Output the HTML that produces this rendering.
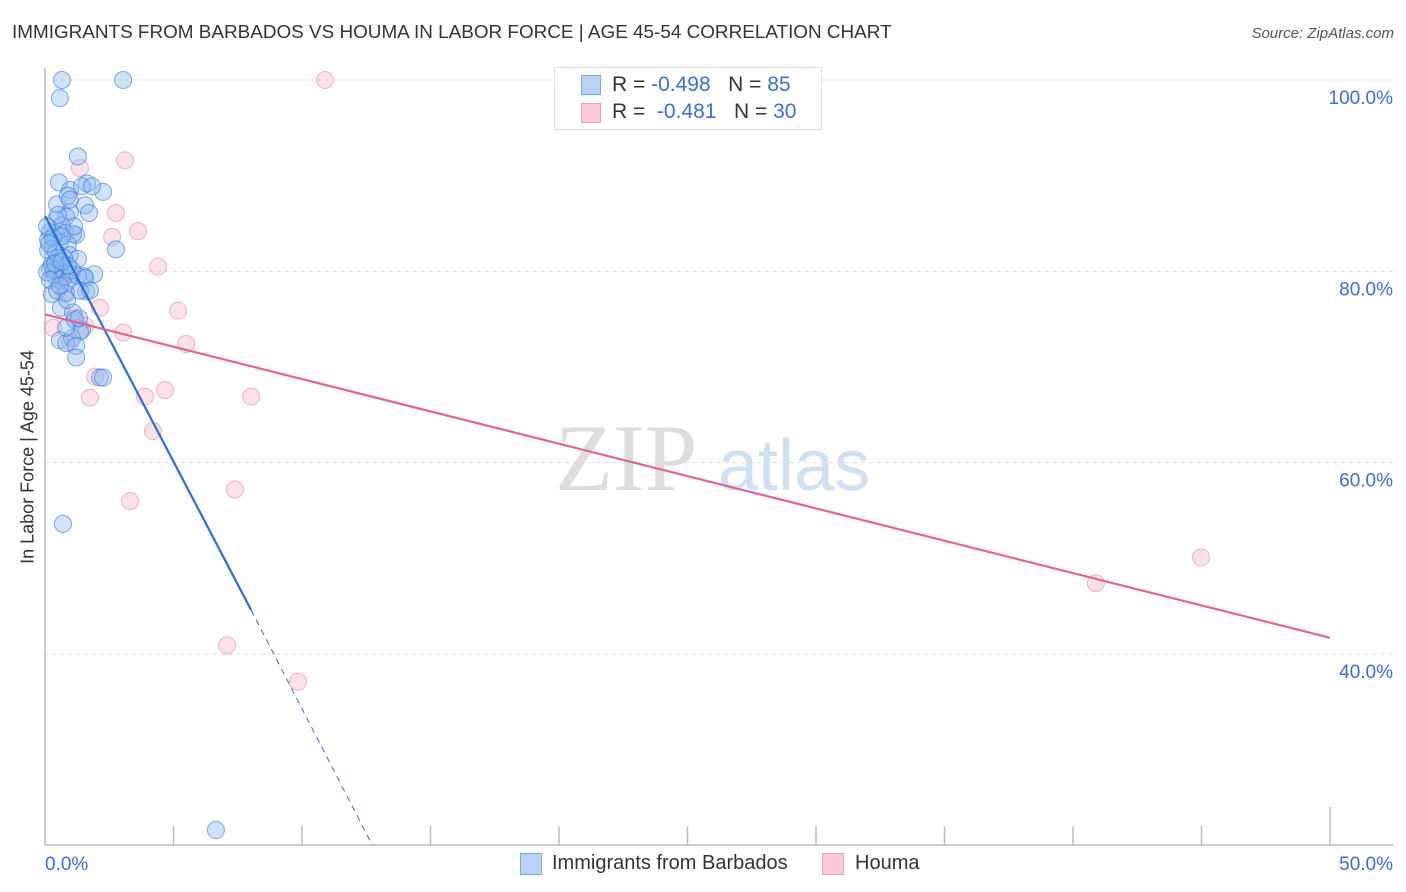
<!DOCTYPE html>
<html><head><meta charset="utf-8"><style>
body{margin:0;background:#fff;font-family:"Liberation Sans",sans-serif}
#wrap{position:relative;width:1406px;height:892px;overflow:hidden}
.t{position:absolute;white-space:nowrap}
</style></head><body>
<div id="wrap">
<div class="t" style="left:12px;top:22px;font-size:18.9px;color:#333">IMMIGRANTS FROM BARBADOS VS HOUMA IN LABOR FORCE | AGE 45-54 CORRELATION CHART</div>
<div class="t" style="right:12px;top:25px;font-size:15px;color:#555;font-style:italic">Source: ZipAtlas.com</div>
<svg id="svg" width="1406" height="892" style="position:absolute;left:0;top:0"></svg>
<div class="t" style="left:28px;top:457px;font-size:18px;color:#333;transform:translate(-50%,-50%) rotate(-90deg)">In Labor Force | Age 45-54</div>
<div style="position:absolute;left:554px;top:67px;width:268px;height:63px;border:1px solid #ddd;background:#fff;box-sizing:border-box"></div>
<div style="position:absolute;left:581px;top:75px;width:20px;height:20px;background:#b8d3f5;border:1px solid #7aa9e8;box-sizing:border-box"></div>
<div style="position:absolute;left:581px;top:103px;width:20px;height:20px;background:#fbcad8;border:1px solid #f0a0b8;box-sizing:border-box"></div>
<div class="t" style="left:612px;top:73px;font-size:21px;color:#333">R = <span style="color:#3a6fd0">-0.498</span>&nbsp;&nbsp;&nbsp;N = <span style="color:#3a6fd0">85</span></div>
<div class="t" style="left:612px;top:100px;font-size:21px;color:#333">R = &nbsp;<span style="color:#3a6fd0">-0.481</span>&nbsp;&nbsp;&nbsp;N = <span style="color:#3a6fd0">30</span></div>
<div style="position:absolute;left:520px;top:853px;width:22px;height:22px;background:#b8d3f5;border:1px solid #7aa9e8;box-sizing:border-box"></div>
<div class="t" style="left:552px;top:852px;font-size:20px;color:#333">Immigrants from Barbados</div>
<div style="position:absolute;left:822px;top:853px;width:22px;height:22px;background:#fbcad8;border:1px solid #f0a0b8;box-sizing:border-box"></div>
<div class="t" style="left:855px;top:852px;font-size:20px;color:#333">Houma</div>
</div>
<script>
const blueX=[0.66,3.04,0.58,1.28,0.54,1.63,2.26,0.97,1.44,0.47,0.89,1.56,1.71,0.97,0.82,0.43,0.66,0.19,0.39,0.78,1.21,1.09,2.76,0.58,0.89,0.31,0.97,1.28,0.43,0.19,0.58,0.78,0.97,1.52,1.91,0.39,0.70,0.89,1.28,1.60,0.82,0.27,0.62,1.09,1.17,1.44,1.36,0.58,1.05,0.82,1.21,1.21,2.14,2.26,0.70,6.65,0.12,0.27,0.51,0.35,0.08,0.19,0.74,1.05,0.47,0.86,1.32,1.56,0.58,0.12,0.31,0.08,0.66,1.13,0.89,0.43,1.83,0.97,0.51,0.16,0.39,0.66,1.36,0.82,1.75];
const blueY=[100,100,98.1,92.0,89.3,89.2,88.3,88.5,88.9,87.0,87.9,86.9,86.1,86.2,85.7,85.4,84.8,84.1,84.0,84.0,83.8,83.9,82.3,83.0,82.8,82.4,81.7,81.3,81.0,80.3,80.1,79.8,79.7,79.5,79.7,79.5,79.3,78.9,79.5,77.9,77.7,77.6,76.2,75.7,74.9,73.9,73.7,72.8,73.0,72.5,72.2,71.0,68.9,68.9,53.6,21.6,83.3,80.7,81.4,80.1,79.9,79.1,81.4,80.1,78.0,77.0,75.1,79.3,78.5,82.2,83.5,84.7,83.7,84.7,80.6,82.0,88.9,87.5,85.9,82.9,80.8,81.0,78.0,74.1,78.0];
const pinkX=[10.89,3.11,1.36,2.76,3.62,2.61,4.40,0.58,5.18,2.14,1.17,0.31,1.56,3.04,5.49,0.97,1.95,4.67,1.75,3.89,8.02,4.20,3.31,7.39,7.08,9.84,40.89,44.98,0.74,0.43];
const pinkY=[100,91.6,90.8,86.1,84.2,83.6,80.5,79.1,75.9,76.2,75.1,74.1,74.3,73.6,72.4,72.6,69.0,67.6,66.8,66.9,66.9,63.3,56.0,57.2,40.9,37.1,47.4,50.1,77.7,80.1];
const blueTrend=[[0,85.8],[8.02,44.6]], blueDash=[[8.02,44.6],[12.74,20]];
const pinkTrend=[[0,75.5],[50,41.7]];
const yTicks=[100,80,60,40];
const xTicks=[0,5,10,15,20,25,30,35,40,45,50];
const X=v=>45+v*25.7, Y=v=>80+(100-v)*9.567;
const svg=document.getElementById('svg'),NS='http://www.w3.org/2000/svg';
function mk(t,a){const e=document.createElementNS(NS,t);for(const k in a)e.setAttribute(k,a[k]);svg.appendChild(e);return e;}
let w=mk('text',{x:555,y:490,'font-size':95,fill:'#ddd','font-family':'Liberation Serif, serif'});w.textContent='ZIP';


w=mk('text',{x:718,y:490,'font-size':72,fill:'#cfe0f5','font-family':'Liberation Sans, sans-serif'});w.textContent='atlas';


yTicks.forEach(v=>{
 let l=mk('line',{x1:45,x2:1393,y1:Y(v),y2:Y(v),stroke:'#ddd','stroke-dasharray':'4,4'});
 
 
 let t=mk('text',{x:1393,y:Y(v)+24,'text-anchor':'end','font-size':19,fill:'#3a6fd0','font-family':'Liberation Sans, sans-serif'});t.textContent=v.toFixed(1)+'%';
 
 
});
let ax=mk('line',{x1:45,x2:45,y1:68,y2:845,stroke:'#bbb','stroke-width':1.5});


ax=mk('line',{x1:45,x2:1393,y1:845,y2:845,stroke:'#bbb','stroke-width':1.5});


xTicks.forEach((v,i)=>{
 if(i==0)return;
 let l=mk('line',{x1:X(v),x2:X(v),y1:i==xTicks.length-1?807:826,y2:845,stroke:'#bbb','stroke-width':1.5});
 
 
});
[[0,'start',45],[50,'end',1393]].forEach(([v,a,px])=>{
 let t=mk('text',{x:px,y:870,'text-anchor':a,'font-size':19,fill:'#3a6fd0','font-family':'Liberation Sans, sans-serif'});t.textContent=v.toFixed(1)+'%';
 
 
});
pinkX.forEach((v,i)=>{
 let c=mk('circle',{cx:X(v),cy:Y(pinkY[i]),r:8.5,fill:'rgba(248,170,195,0.35)',stroke:'rgba(235,130,165,0.6)','stroke-width':1});
 
 
});
blueX.forEach((v,i)=>{
 let c=mk('circle',{cx:X(v),cy:Y(blueY[i]),r:8.5,fill:'rgba(140,185,240,0.4)',stroke:'rgba(60,125,220,0.65)','stroke-width':1});
 
 
});
let tl=mk('line',{x1:X(blueTrend[0][0]),y1:Y(blueTrend[0][1]),x2:X(blueTrend[1][0]),y2:Y(blueTrend[1][1]),stroke:'#2a6fd6','stroke-width':2.2});


tl=mk('line',{x1:X(blueDash[0][0]),y1:Y(blueDash[0][1]),x2:X(blueDash[1][0]),y2:Y(blueDash[1][1]),stroke:'#2a6fd6','stroke-width':1,'stroke-dasharray':'6,5'});


tl=mk('line',{x1:X(pinkTrend[0][0]),y1:Y(pinkTrend[0][1]),x2:X(pinkTrend[1][0]),y2:Y(pinkTrend[1][1]),stroke:'#e4648f','stroke-width':2.2});


</script>
</body></html>
